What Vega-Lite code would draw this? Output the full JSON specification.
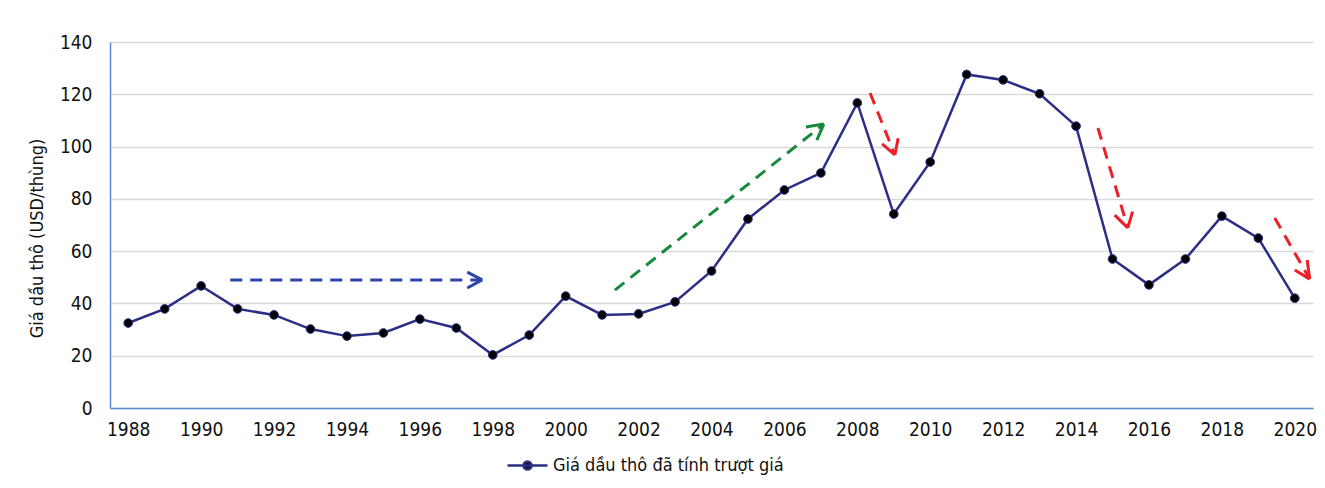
{
  "$schema": "https://vega.github.io/schema/vega-lite/v6.json",
  "autosize": {"type": "none"},
  "padding": {"left": 110, "top": 42, "right": 12, "bottom": 80},
  "width": 1203,
  "height": 366,
  "background": "white",
  "config": {
    "view": {"stroke": null},
    "font": "DejaVu Sans Condensed",
    "axis": {
      "labelFont": "DejaVu Sans Condensed",
      "titleFont": "DejaVu Sans Condensed",
      "labelColor": "#111111",
      "titleColor": "#111111",
      "labelFontSize": 19,
      "titleFontSize": 18,
      "titleFontWeight": "normal",
      "ticks": false,
      "domainColor": "#5b8bd2",
      "domainWidth": 1.5,
      "gridColor": "#d9d9d9",
      "gridWidth": 1.5
    }
  },
  "datasets": {
    "price": [
      {"year": 1988, "price": 32.5, "series": "Giá dầu thô đã tính trượt giá"},
      {"year": 1989, "price": 37.9, "series": "Giá dầu thô đã tính trượt giá"},
      {"year": 1990, "price": 46.7, "series": "Giá dầu thô đã tính trượt giá"},
      {"year": 1991, "price": 37.9, "series": "Giá dầu thô đã tính trượt giá"},
      {"year": 1992, "price": 35.6, "series": "Giá dầu thô đã tính trượt giá"},
      {"year": 1993, "price": 30.2, "series": "Giá dầu thô đã tính trượt giá"},
      {"year": 1994, "price": 27.5, "series": "Giá dầu thô đã tính trượt giá"},
      {"year": 1995, "price": 28.7, "series": "Giá dầu thô đã tính trượt giá"},
      {"year": 1996, "price": 34.0, "series": "Giá dầu thô đã tính trượt giá"},
      {"year": 1997, "price": 30.6, "series": "Giá dầu thô đã tính trượt giá"},
      {"year": 1998, "price": 20.3, "series": "Giá dầu thô đã tính trượt giá"},
      {"year": 1999, "price": 27.9, "series": "Giá dầu thô đã tính trượt giá"},
      {"year": 2000, "price": 42.8, "series": "Giá dầu thô đã tính trượt giá"},
      {"year": 2001, "price": 35.6, "series": "Giá dầu thô đã tính trượt giá"},
      {"year": 2002, "price": 36.0, "series": "Giá dầu thô đã tính trượt giá"},
      {"year": 2003, "price": 40.6, "series": "Giá dầu thô đã tính trượt giá"},
      {"year": 2004, "price": 52.4, "series": "Giá dầu thô đã tính trượt giá"},
      {"year": 2005, "price": 72.3, "series": "Giá dầu thô đã tính trượt giá"},
      {"year": 2006, "price": 83.4, "series": "Giá dầu thô đã tính trượt giá"},
      {"year": 2007, "price": 89.9, "series": "Giá dầu thô đã tính trượt giá"},
      {"year": 2008, "price": 116.7, "series": "Giá dầu thô đã tính trượt giá"},
      {"year": 2009, "price": 74.2, "series": "Giá dầu thô đã tính trượt giá"},
      {"year": 2010, "price": 94.1, "series": "Giá dầu thô đã tính trượt giá"},
      {"year": 2011, "price": 127.6, "series": "Giá dầu thô đã tính trượt giá"},
      {"year": 2012, "price": 125.5, "series": "Giá dầu thô đã tính trượt giá"},
      {"year": 2013, "price": 120.2, "series": "Giá dầu thô đã tính trượt giá"},
      {"year": 2014, "price": 107.8, "series": "Giá dầu thô đã tính trượt giá"},
      {"year": 2015, "price": 57.0, "series": "Giá dầu thô đã tính trượt giá"},
      {"year": 2016, "price": 47.1, "series": "Giá dầu thô đã tính trượt giá"},
      {"year": 2017, "price": 57.0, "series": "Giá dầu thô đã tính trượt giá"},
      {"year": 2018, "price": 73.4, "series": "Giá dầu thô đã tính trượt giá"},
      {"year": 2019, "price": 65.0, "series": "Giá dầu thô đã tính trượt giá"},
      {"year": 2020, "price": 42.0, "series": "Giá dầu thô đã tính trượt giá"}
    ],
    "shafts": [
      {"x1": 1990.8, "y1": 49.0, "x2": 1997.71, "y2": 49.0, "col": "#2e45a8"},
      {"x1": 2001.35, "y1": 45.1, "x2": 2007.08, "y2": 108.6, "col": "#17893e"},
      {"x1": 2008.35, "y1": 120.5, "x2": 2009.03, "y2": 96.8, "col": "#ee1f26"},
      {"x1": 2014.6, "y1": 107.1, "x2": 2015.42, "y2": 68.9, "col": "#ee1f26"},
      {"x1": 2019.45, "y1": 72.7, "x2": 2020.41, "y2": 49.3, "col": "#ee1f26"}
    ],
    "heads": [
      {"x1": 1997.71, "y1": 49.0, "x2": 1997.3, "y2": 52.0, "col": "#2e45a8"},
      {"x1": 1997.71, "y1": 49.0, "x2": 1997.3, "y2": 45.9, "col": "#2e45a8"},
      {"x1": 2007.08, "y1": 108.6, "x2": 2006.59, "y2": 107.5, "col": "#17893e"},
      {"x1": 2007.08, "y1": 108.6, "x2": 2006.89, "y2": 102.5, "col": "#17893e"},
      {"x1": 2009.03, "y1": 96.8, "x2": 2008.68, "y2": 101.0, "col": "#ee1f26"},
      {"x1": 2009.03, "y1": 96.8, "x2": 2009.12, "y2": 103.2, "col": "#ee1f26"},
      {"x1": 2015.42, "y1": 68.9, "x2": 2015.06, "y2": 73.8, "col": "#ee1f26"},
      {"x1": 2015.42, "y1": 68.9, "x2": 2015.55, "y2": 75.1, "col": "#ee1f26"},
      {"x1": 2020.41, "y1": 49.3, "x2": 2020.0, "y2": 52.8, "col": "#ee1f26"},
      {"x1": 2020.41, "y1": 49.3, "x2": 2020.34, "y2": 56.6, "col": "#ee1f26"}
    ]
  },
  "layer": [
    {
      "data": {"name": "shafts"},
      "mark": {"type": "rule", "strokeWidth": 3, "strokeDash": [12, 8], "clip": false},
      "encoding": {
        "x": {"field": "x1", "type": "quantitative", "scale": {"domain": [1987.5, 2020.5], "nice": false, "zero": false}},
        "y": {"field": "y1", "type": "quantitative"},
        "x2": {"field": "x2"},
        "y2": {"field": "y2"},
        "stroke": {"field": "col", "type": "nominal", "scale": null, "legend": null}
      }
    },
    {
      "data": {"name": "heads"},
      "mark": {"type": "rule", "strokeWidth": 3, "clip": false},
      "encoding": {
        "x": {"field": "x1", "type": "quantitative"},
        "y": {"field": "y1", "type": "quantitative"},
        "x2": {"field": "x2"},
        "y2": {"field": "y2"},
        "stroke": {"field": "col", "type": "nominal", "scale": null, "legend": null}
      }
    },
    {
      "data": {"name": "price"},
      "mark": {"type": "line", "strokeWidth": 2.5},
      "encoding": {
        "x": {
          "field": "year", "type": "quantitative",
          "scale": {"domain": [1987.5, 2020.5], "nice": false, "zero": false},
          "axis": {
            "title": null, "grid": false, "format": "d",
            "values": [1988, 1990, 1992, 1994, 1996, 1998, 2000, 2002, 2004, 2006, 2008, 2010, 2012, 2014, 2016, 2018, 2020],
            "labelPadding": 12
          }
        },
        "y": {
          "field": "price", "type": "quantitative",
          "scale": {"domain": [0, 140], "nice": false},
          "axis": {
            "title": "Giá dầu thô (USD/thùng)",
            "values": [0, 20, 40, 60, 80, 100, 120, 140],
            "labelPadding": 18,
            "titlePadding": 13,
            "titleY": 196
          }
        },
        "color": {
          "field": "series", "type": "nominal",
          "scale": {"range": ["#2b2e85"]},
          "legend": {
            "title": null,
            "orient": "none",
            "legendX": 396,
            "legendY": 402,
            "labelFontSize": 18,
            "labelLimit": 500,
            "labelColor": "#111111",
            "labelFont": "DejaVu Sans Condensed",
            "symbolType": "M-1,0H1M-0.2,0a0.2,0.2 0 1,0 0.4,0a0.2,0.2 0 1,0 -0.4,0",
            "symbolSize": 1600,
            "labelOffset": 4,
            "encode": {
              "symbols": {"update": {"fill": {"value": "#000000"}, "stroke": {"value": "#2b2e85"}, "strokeWidth": {"value": 2.5}}}
            }
          }
        }
      }
    },
    {
      "data": {"name": "price"},
      "mark": {"type": "point", "filled": true, "fill": "#000000", "stroke": "#2b2e85", "strokeWidth": 1, "size": 75, "opacity": 1},
      "encoding": {
        "x": {"field": "year", "type": "quantitative"},
        "y": {"field": "price", "type": "quantitative"}
      }
    }
  ]
}
